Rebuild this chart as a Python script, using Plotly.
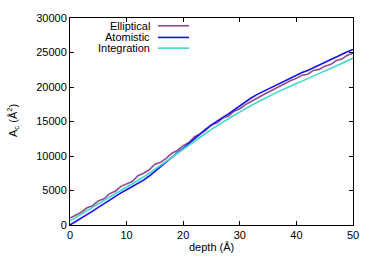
import plotly.graph_objects as go

depth = list(range(0, 51))

elliptical = [1000, 1450, 1850, 2500, 2800, 3500, 3800, 4550, 4900, 5600,
              5950, 6300, 7150, 7500, 8000, 8800, 9100, 9650, 10400, 10800,
              11500, 11950, 12800, 13200, 13750, 14500, 14800, 15500, 15800, 16500,
              16850, 17450, 17900, 18400, 18800, 19250, 19700, 20150, 20500, 20950,
              21250, 21700, 21850, 22400, 22550, 23000, 23250, 23800, 24050, 24600, 24900]

atomistic = [0, 480, 980, 1500, 2020, 2550, 3100, 3630, 4150, 4650,
             5100, 5560, 6000, 6500, 7100, 7800, 8500, 9200, 9900, 10500,
             11100, 11800, 12600, 13300, 13900, 14500, 15100, 15600, 16100, 16700,
             17300, 17900, 18400, 18900, 19300, 19700, 20200, 20600, 21000, 21400,
             21700, 22100, 22400, 22800, 23100, 23500, 23900, 24300, 24700, 25100, 25450]

integration = [600, 1100, 1600, 2100, 2600, 3100, 3600, 4100, 4550, 5000,
               5500, 5950, 6400, 6950, 7500, 8050, 8600, 9200, 9800, 10400,
               11000, 11600, 12200, 12750, 13300, 13850, 14400, 14900, 15400, 15900,
               16400, 16850, 17300, 17750, 18200, 18600, 19000, 19400, 19800, 20150,
               20500, 20850, 21200, 21550, 21900, 22250, 22650, 23050, 23400, 23800, 24200]

names = ["Elliptical", "Atomistic", "Integration"]
colors = ["#904b90", "#1010f0", "#40d8c8"]
series = [elliptical, atomistic, integration]

x_ticks = [0, 10, 20, 30, 40, 50]
y_ticks = [0, 5000, 10000, 15000, 20000, 25000, 30000]
x_ticktext = [str(v) for v in x_ticks]
y_ticktext = [str(v) for v in y_ticks]

FONT = "Liberation Sans, Arial, sans-serif"

W, H = 374, 262
L, R, T, B = 70, 21, 12, 37
pw, ph = W - L - R, H - T - B


def px_to_paper_x(px):
    return (px - L) / pw


def px_to_paper_y(py):
    return 1 - (py - T) / ph


fig = go.Figure()
for name, col, ys in zip(names, colors, series):
    fig.add_trace(go.Scatter(x=depth, y=ys, mode="lines", name=name,
                             line=dict(color=col, width=1.6), showlegend=False))

legend_y = [20, 32, 43]
for name, col, yy in zip(names, colors, legend_y):
    fig.add_annotation(x=px_to_paper_x(152), y=px_to_paper_y(yy), xref="paper", yref="paper",
                       text=name, showarrow=False, xanchor="right", yanchor="middle",
                       font=dict(family=FONT, size=11, color="black"))
    fig.add_shape(type="line", xref="paper", yref="paper",
                  x0=px_to_paper_x(158), x1=px_to_paper_x(189),
                  y0=px_to_paper_y(yy), y1=px_to_paper_y(yy),
                  line=dict(color=col, width=1.6))

# axis titles
fig.add_annotation(x=px_to_paper_x(211.5), y=px_to_paper_y(248), xref="paper", yref="paper",
                   text="depth (Å)", showarrow=False, xanchor="center", yanchor="middle",
                   font=dict(family=FONT, size=11, color="black"))
fig.add_annotation(x=px_to_paper_x(13), y=px_to_paper_y(118), xref="paper", yref="paper",
                   text="A<sub>c</sub> (Å<sup>2</sup>)", showarrow=False, textangle=-90,
                   xanchor="center", yanchor="middle",
                   font=dict(family=FONT, size=11, color="black"))

axis_common = dict(showline=True, linecolor="black", linewidth=1, mirror="allticks",
                   ticks="inside", ticklen=4, tickcolor="black", showgrid=False,
                   zeroline=False, ticklabeloverflow="allow",
                   tickfont=dict(family=FONT, size=11, color="black"))

fig.update_xaxes(range=[0, 50], tickvals=x_ticks, ticktext=x_ticktext, **axis_common)
fig.update_yaxes(range=[0, 30000], tickvals=y_ticks, ticktext=y_ticktext, **axis_common)

fig.update_layout(width=W, height=H, margin=dict(l=L, r=R, t=T, b=B),
                  paper_bgcolor="white", plot_bgcolor="white",
                  font=dict(family=FONT, size=11, color="black"))

fig.write_html("out.html", config={"displayModeBar": False},
               post_script="document.body.style.margin='0px';document.body.style.overflow='hidden';")
